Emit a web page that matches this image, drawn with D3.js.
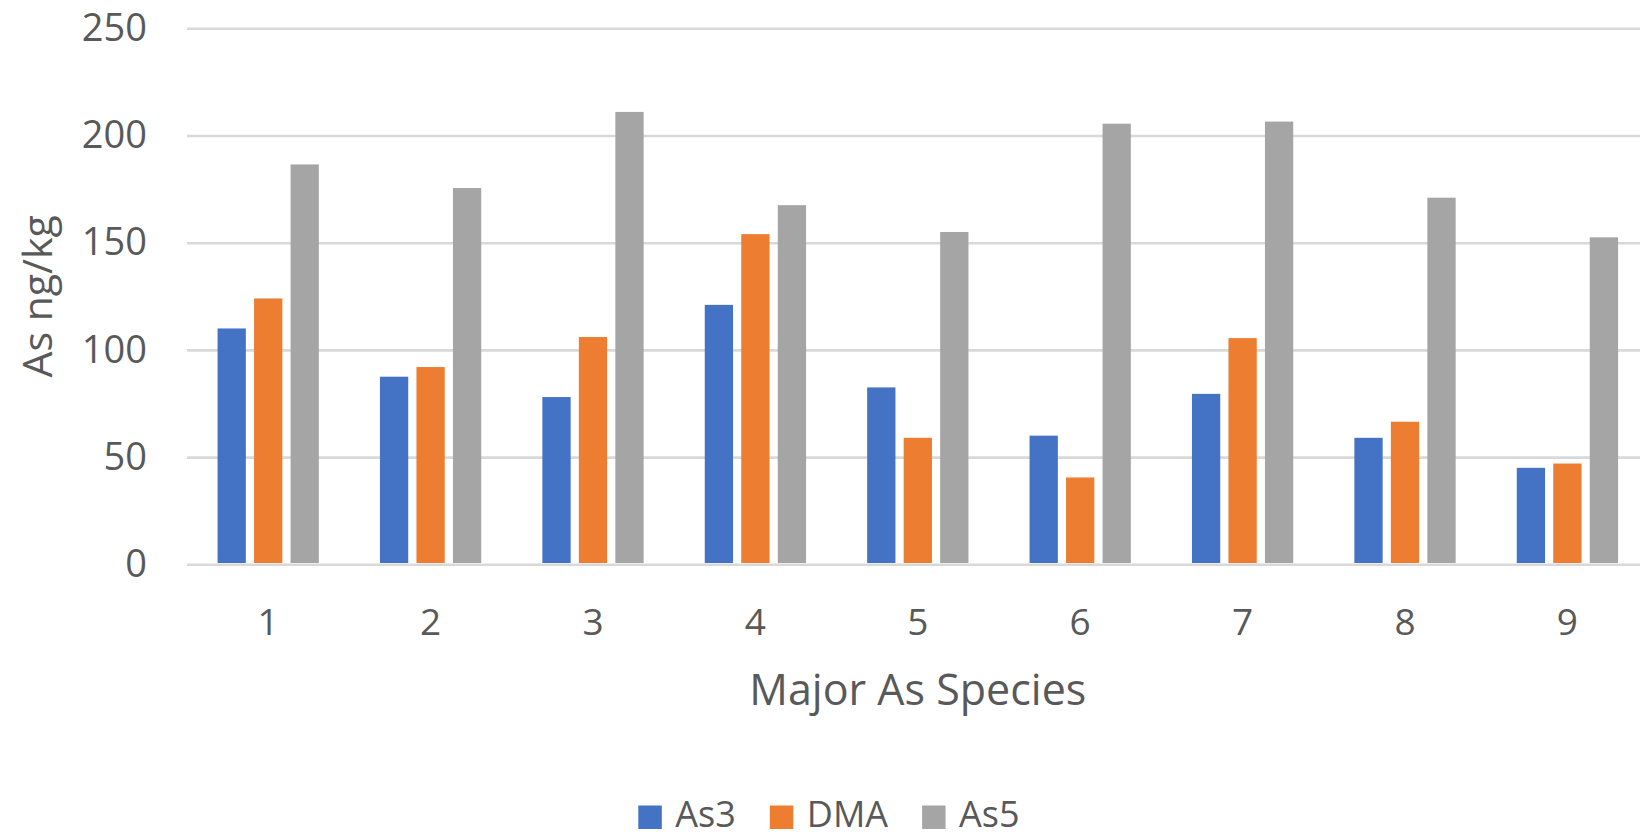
<!DOCTYPE html>
<html>
<head>
<meta charset="utf-8">
<script src="https://cdn.jsdelivr.net/npm/d3@7"></script>
<style>
	body { margin: 0; background: #fff; }
	svg { display: block; font-family: "Open Sans", "Noto Sans", sans-serif; }
	.tick text { fill: #595959; }
</style>
</head>
<body>
<div id="chart"></div>
<script>
var categories = ["1", "2", "3", "4", "5", "6", "7", "8", "9"];
var seriesNames = ["As3", "DMA", "As5"];
var as3Values = [110, 87.5, 78, 121, 82.5, 60, 79.5, 59, 45];
var dmaValues = [124, 92, 106, 154, 59, 40.5, 105.5, 66.5, 47];
var as5Values = [186.5, 175.5, 211, 167.5, 155, 205.5, 206.5, 171, 152.5];
var yTicks = [0, 50, 100, 150, 200, 250];
var colors = ["#4472C4", "#ED7D31", "#A5A5A5"];

var width = 1640,
	height = 837;

// plot area (runs a little past the right edge like the original)
var plotLeft = 187,
	plotRight = 1648.6,
	plotTop = 28.3,
	plotBottom = 564.3;

var svg = d3
	.select("#chart")
	.append("svg")
	.attr("width", width)
	.attr("height", height);

var x = d3.scaleBand().domain(categories).range([plotLeft, plotRight]).padding(0);

var inner = d3
	.scaleBand()
	.domain(seriesNames)
	.range([-54.75, 54.75])
	.paddingInner(0.225)
	.paddingOuter(0.225 / 2);

var y = d3.scaleLinear().domain([0, 250]).range([plotBottom, plotTop]);

// gridlines + y labels
var yAxis = svg
	.append("g")
	.attr("transform", "translate(" + plotLeft + ",0)")
	.call(
		d3
			.axisLeft(y)
			.tickValues(yTicks)
			.tickSize(-(plotRight - plotLeft))
			.tickPadding(40)
	)
	.attr("font-family", null)
	.attr("font-size", null);
yAxis.select(".domain").remove();
yAxis.selectAll(".tick line").attr("stroke", "#d9d9d9").attr("stroke-width", 2.6);
yAxis.selectAll(".tick text").attr("font-size", 38);

// x labels
var xAxis = svg
	.append("g")
	.attr("transform", "translate(0," + plotBottom + ")")
	.call(d3.axisBottom(x).tickSize(0).tickPadding(44))
	.attr("font-family", null)
	.attr("font-size", null);
xAxis.select(".domain").remove();
xAxis.selectAll(".tick text").attr("font-size", 37);

var series = [as3Values, dmaValues, as5Values];

series.forEach(function (vals, s) {
	svg
		.append("g")
		.selectAll("rect")
		.data(vals)
		.enter()
		.append("rect")
		.attr("x", function (d, i) {
			return x(categories[i]) + x.bandwidth() / 2 + inner(seriesNames[s]);
		})
		.attr("y", function (d) {
			return y(d);
		})
		.attr("width", inner.bandwidth())
		.attr("height", function (d) {
			return y(0) - y(d) - 1.3;
		})
		.attr("fill", colors[s]);
});

// axis titles
svg
	.append("text")
	.attr("x", (plotLeft + plotRight) / 2)
	.attr("y", 705)
	.attr("text-anchor", "middle")
	.attr("font-size", 43)
	.attr("fill", "#595959")
	.text("Major As Species");

svg
	.append("text")
	.attr("transform", "translate(52," + (plotTop + plotBottom) / 2 + ") rotate(-90)")
	.attr("text-anchor", "middle")
	.attr("font-size", 41)
	.attr("fill", "#595959")
	.text("As ng/kg");

// legend
var legend = svg.append("g");
var lx = 638.3;
seriesNames.forEach(function (name, s) {
	legend
		.append("rect")
		.attr("x", lx)
		.attr("y", 805.5)
		.attr("width", 23.5)
		.attr("height", 23.5)
		.attr("fill", colors[s]);
	var t = legend
		.append("text")
		.attr("x", lx + 37)
		.attr("y", 827)
		.attr("font-size", 36)
		.attr("fill", "#595959")
		.text(name);
	lx = lx + 37 + t.node().getComputedTextLength() + 34;
});
</script>
</body>
</html>
